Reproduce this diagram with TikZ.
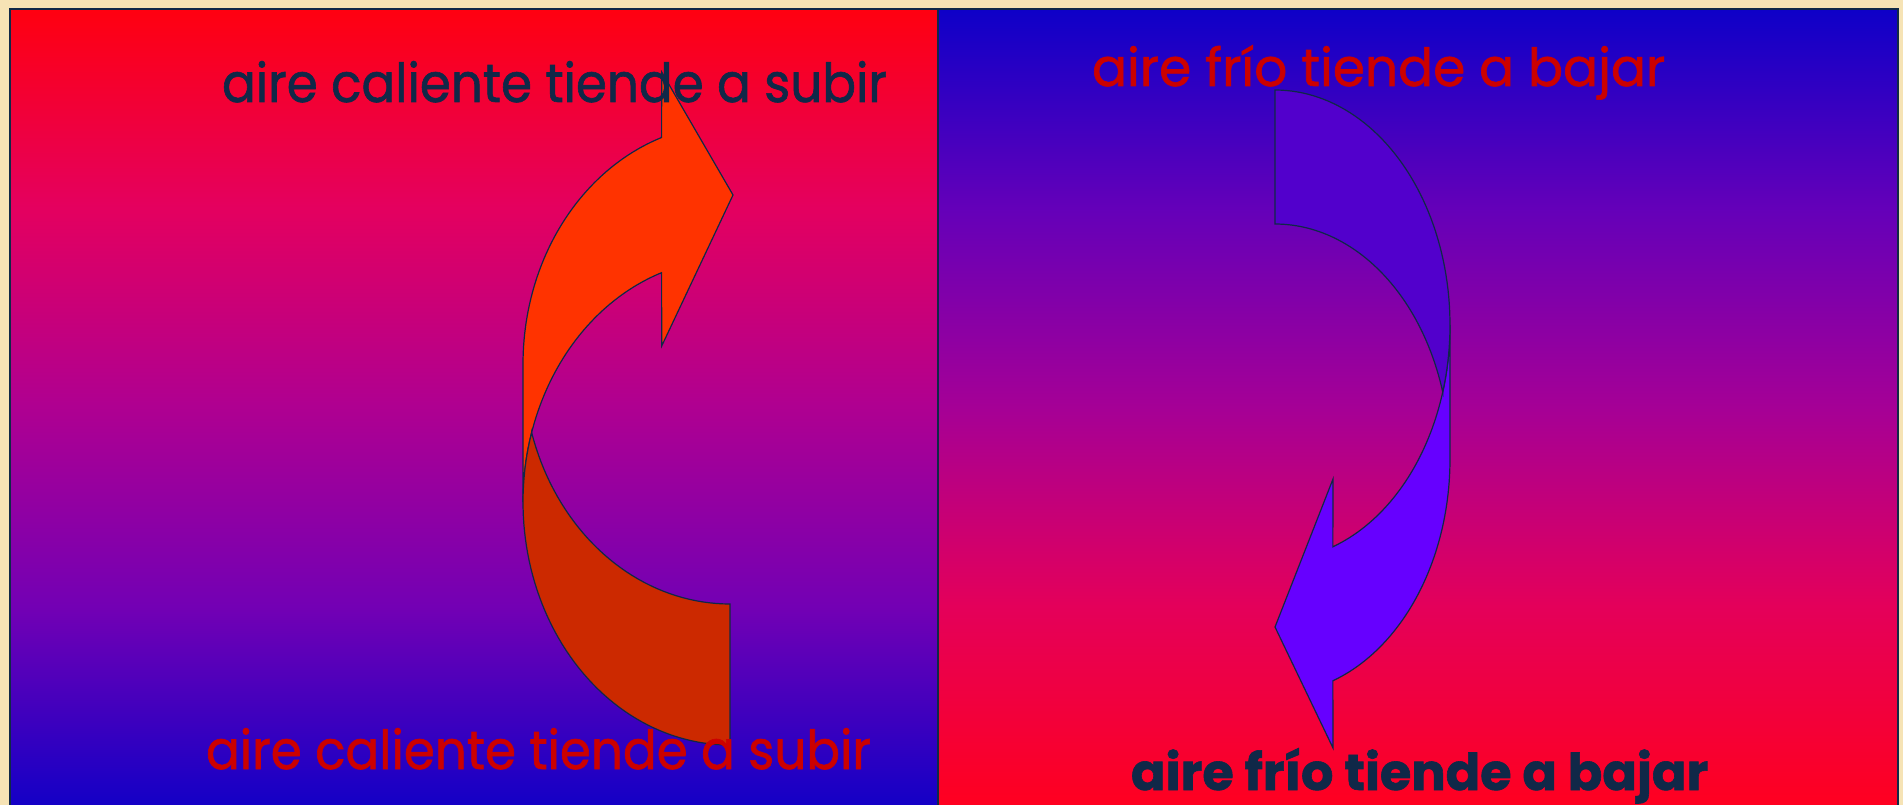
\documentclass[tikz,border=0pt]{standalone}
\usepackage{graphicx}
\usepackage{fontspec}
\setmainfont{Poppins}
\newfontfamily\comicfont{Poppins}[FakeBold=1.2]
\definecolor{beige}{RGB}{246,227,181}
\definecolor{navy}{RGB}{16,40,72}
\definecolor{txtred}{RGB}{204,0,0}
\definecolor{hot}{RGB}{255,51,0}
\definecolor{hotdark}{RGB}{204,41,0}
\definecolor{cold}{RGB}{102,0,255}
\definecolor{colddark}{RGB}{82,0,204}
\pgfdeclareverticalshading{leftgrad}{100bp}{rgb(0bp)=(0.078,0,0.776); rgb(25bp)=(0.078,0,0.776); rgb(37.5bp)=(0.451,0,0.706); rgb(50bp)=(0.686,0,0.569); rgb(62.5bp)=(0.894,0,0.373); rgb(75bp)=(1,0,0.063); rgb(100bp)=(1,0,0.063)}
\pgfdeclareverticalshading{rightgrad}{100bp}{rgb(0bp)=(1,0,0.125); rgb(25bp)=(1,0,0.125); rgb(37.5bp)=(0.894,0,0.353); rgb(50bp)=(0.647,0,0.588); rgb(62.5bp)=(0.392,0,0.725); rgb(75bp)=(0.055,0,0.784); rgb(100bp)=(0.055,0,0.784)}
\tikzset{
  panelline/.style={draw=navy, line width=1.5pt},
  shapeline/.style={draw=navy, line width=1.2pt, line join=miter},
  lbl/.style={anchor=base west, inner sep=0pt, outer sep=0pt, font=\comicfont}
}
\begin{document}
\begin{tikzpicture}[x=1pt,y=-1pt]
\useasboundingbox (0,0) rectangle (1903,805);
\fill[beige] (0,0) rectangle (1903,805);
% panels
\shade[shading=leftgrad] (10,9) rectangle (938,805);
\shade[shading=rightgrad] (938,9) rectangle (1898,805);
\draw[panelline] (10,810) -- (10,9) -- (938,9) -- (938,810);
\draw[panelline] (938,9) -- (1898,9) -- (1898,810);

% left arrow (hot air, up)
\filldraw[shapeline, fill=hot]
  plot[domain=250.7:180, samples=50] ({730+207*cos(\x)},{364+240*sin(\x)})
  -- (523,502)
  -- plot[domain=180:250.7, samples=50] ({730+207*cos(\x)},{502+243*sin(\x)})
  -- (661.7,346) -- (733,195) -- (661.7,72) -- cycle;
\filldraw[shapeline, fill=hotdark]
  plot[domain=90:163.4, samples=40] ({730+207*cos(\x)},{364+240*sin(\x)})
  -- plot[domain=196.6:90, samples=60] ({730+207*cos(\x)},{502+243*sin(\x)})
  -- cycle;

% right arrow (cold air, down)
\filldraw[shapeline, fill=cold]
  plot[domain=70.7:0, samples=50] ({1275+175*cos(\x)},{459+235*sin(\x)})
  -- (1450,325)
  -- plot[domain=0:70.7, samples=50] ({1275+175*cos(\x)},{325+235*sin(\x)})
  -- (1333,479) -- (1275,627) -- (1333,748) -- cycle;
\filldraw[shapeline, fill=colddark]
  plot[domain=270:376.56, samples=60] ({1275+175*cos(\x)},{325+235*sin(\x)})
  -- plot[domain=343.44:270, samples=50] ({1275+175*cos(\x)},{459+235*sin(\x)})
  -- cycle;

% texts
\node[lbl, text=navy] (tl) at (222,102) {\resizebox{665pt}{41pt}{aire caliente tiende a subir}};
\node[lbl, text=txtred] (bl) at (206,769) {\resizebox{665pt}{41pt}{aire caliente tiende a subir}};
\node[lbl, text=txtred] (tr) at (1092,86) {\resizebox{573pt}{41pt}{aire frío tiende a bajar}};
\node[lbl, text=navy] (br) at (1131,790) {\resizebox{577pt}{42pt}{\bfseries aire frío tiende a bajar}};
\end{tikzpicture}
\end{document}
